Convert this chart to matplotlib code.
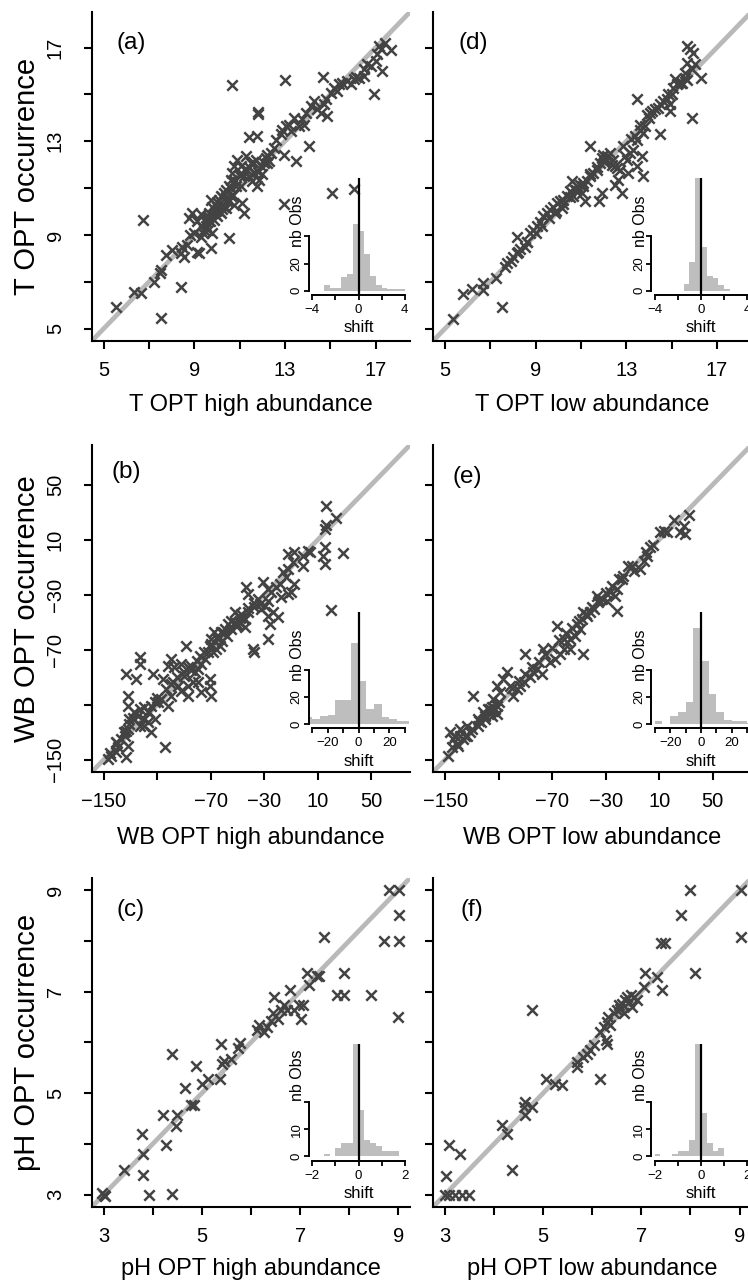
import matplotlib
matplotlib.use('Agg')
import matplotlib.pyplot as plt

plt.rcParams['font.family'] = ['Liberation Sans', 'DejaVu Sans']

# ---------------- data ----------------
# (a) T OPT high abundance vs occurrence
a_x = [6.34, 6.63, 7.22, 7.49, 7.51, 7.74, 8.03, 8.40, 8.47, 8.54, 8.69, 8.76, 8.91, 9.13, 9.28, 9.28,
       9.43, 9.50, 9.57, 9.65, 9.72, 9.79, 9.87, 9.94, 10.01, 10.09, 10.16, 10.16, 10.24, 10.31, 10.38,
       10.46, 10.53, 10.60, 10.60, 10.68, 10.75, 10.75, 10.82, 10.90, 10.97, 11.04, 11.04, 11.12, 11.19,
       11.26, 11.34, 11.41, 11.49, 11.56, 11.63, 11.71, 11.78, 11.85, 11.93, 12.07, 12.15, 12.22, 12.29,
       12.37, 12.51, 12.59, 12.81, 12.88, 13.03, 13.18, 13.25, 13.40, 13.62, 13.76, 13.84, 13.91, 14.13,
       14.28, 14.43, 14.57, 14.72, 14.79, 14.87, 15.01, 15.16, 15.31, 15.38, 15.53, 15.75, 15.90, 16.04,
       16.12, 16.26, 16.49, 16.63, 16.78, 17.00, 17.07, 17.22, 17.70, 17.40, 16.50, 17.30,
       10.68, 12.99, 14.69, 16.93, 17.15, 11.82, 11.82, 11.78, 11.41, 14.06, 13.47, 12.96, 6.75, 8.40,
       7.51, 5.53, 15.09, 16.04, 12.96, 10.53, 9.21, 9.72,
       9.50, 9.60, 9.70, 9.80, 9.90, 10.00, 10.10, 10.20, 10.30, 10.40, 10.50, 10.60, 10.70, 9.40, 9.60,
       10.00, 10.20, 10.40, 10.80, 11.00, 11.20, 11.40, 11.60, 11.80, 12.00, 12.20, 8.80, 9.00, 9.10, 9.30]
a_y = [6.57, 6.50, 7.00, 7.36, 7.50, 8.14, 8.36, 8.21, 8.50, 8.07, 8.57, 9.71, 9.93, 8.29, 8.93, 9.36,
       9.21, 9.57, 9.71, 9.93, 10.50, 9.07, 9.64, 10.00, 10.21, 10.50, 10.64, 9.93, 10.29, 10.79, 10.14,
       10.50, 11.07, 11.36, 10.64, 11.64, 11.93, 10.29, 11.07, 12.21, 11.57, 11.93, 11.07, 10.36, 9.93,
       12.36, 11.79, 11.50, 12.07, 11.29, 11.64, 12.21, 11.07, 11.36, 11.93, 12.07, 12.29, 12.07, 12.14,
       12.50, 12.71, 13.07, 13.29, 13.50, 13.64, 13.71, 13.43, 14.00, 13.64, 13.93, 13.71, 14.21, 14.50,
       14.71, 14.36, 14.21, 14.57, 14.79, 14.07, 15.07, 15.29, 15.14, 15.43, 15.50, 15.57, 15.43, 15.64,
       15.76, 15.71, 16.07, 16.29, 16.21, 16.43, 16.71, 16.93, 16.90, 17.20, 15.80, 16.00,
       15.39, 15.60, 15.76, 15.00, 17.07, 14.24, 14.18, 13.21, 13.19, 12.79, 12.14, 12.43, 9.64, 6.76,
       5.43, 5.93, 10.81, 10.96, 10.33, 8.86, 8.21, 8.43,
       9.40, 9.80, 9.60, 10.20, 9.90, 10.40, 10.00, 10.60, 10.20, 10.90, 10.40, 11.00, 10.70, 9.10, 9.20,
       9.80, 10.10, 10.60, 11.30, 11.60, 11.50, 11.90, 12.10, 11.70, 11.60, 12.40, 9.00, 9.10, 9.60, 9.90]

# (d) T OPT low abundance vs occurrence
d_x = [5.37, 5.81, 6.18, 6.69, 6.69, 7.50, 7.25, 7.65, 7.72, 8.01, 8.16, 8.24, 8.16,
       8.53, 8.60, 8.75, 8.90, 9.04, 9.19, 9.34, 9.49, 9.63, 9.78, 9.85, 9.93, 10.07, 10.15, 10.22,
       10.37, 10.51, 10.59, 10.66, 10.74, 10.81, 10.96, 11.03, 11.10, 11.18, 11.25, 11.40, 11.40, 11.54,
       11.69, 11.84, 11.91, 11.99, 12.06, 12.13, 12.28, 12.35, 12.43, 12.50, 12.57, 12.65, 12.72, 12.79,
       12.87, 12.94, 13.01, 13.09, 13.16, 13.31, 13.38, 13.46, 13.46, 13.60, 13.68, 13.75, 13.82, 13.75,
       13.90, 14.04, 14.12, 14.26, 14.41, 14.49, 14.63, 14.78, 14.85, 14.93, 14.93, 15.07, 15.15, 15.22,
       15.29, 15.44, 15.59, 15.66, 15.81, 15.96, 15.66, 16.03, 15.59, 16.32, 15.88, 13.46, 11.81, 11.91,
       12.50,
       9.00, 9.30, 9.60, 9.90, 10.20, 10.50, 10.80, 11.10, 11.40, 11.70, 12.00, 8.60, 8.30, 7.90, 13.20,
       13.60, 14.00, 14.50, 15.00, 15.40, 15.70, 15.90]
d_y = [5.39, 6.46, 6.67, 6.93, 6.64, 5.90, 7.14, 7.64, 7.79, 8.07, 8.21, 8.29, 8.93,
       8.50, 8.71, 9.07, 9.21, 9.36, 9.57, 9.79, 9.93, 10.07, 10.21, 9.93, 10.36, 10.43, 10.14, 10.50,
       10.64, 10.86, 11.29, 10.64, 10.93, 11.07, 11.14, 10.79, 11.07, 10.43, 11.29, 12.79, 11.50, 11.64,
       11.79, 12.07, 12.29, 12.43, 12.21, 12.36, 12.50, 12.00, 12.21, 11.93, 11.86, 11.36, 11.79, 10.79,
       12.79, 12.36, 12.21, 11.64, 12.50, 12.64, 13.21, 13.07, 11.93, 13.50, 12.36, 13.36, 13.64, 11.50,
       14.14, 14.21, 14.29, 14.36, 14.43, 13.29, 14.71, 14.79, 15.00, 14.57, 14.29, 15.29, 15.64, 15.43,
       15.50, 15.50, 15.71, 17.07, 16.93, 16.79, 16.36, 16.29, 15.93, 15.71, 14.00, 14.79, 10.43, 10.81,
       11.14,
       9.10, 9.40, 9.70, 10.00, 10.30, 10.60, 10.90, 11.20, 11.60, 11.90, 12.10, 8.70, 8.40, 7.90, 13.10,
       13.70, 14.00, 14.60, 15.00, 15.50, 15.60, 16.10]

# (b) WB OPT high abundance vs occurrence
b_x = [16.2, 23.7, 16.2, 15.5, 15.0, 13.7, 15.0, 28.7, 3.8, 20.0, -12.4, -8.7, -7.5, -1.2, -1.2, 2.5,
       -12.4, -16.2, -13.7, -18.7, -21.2, -24.9, -27.4, -29.9, -32.4, -33.6, -37.4, -42.3, -43.6, -31.1,
       -42.3, -27.4, -17.4, -9.9, -7.5, -12.4, -27.4, -23.7, -19.9, -26.1, -27.4, -37.4, -38.6, -44.8,
       -47.3, -52.3, -54.8, -51.1, -48.6, -44.8, -57.3, -59.8, -62.3, -64.8, -67.3, -69.8, -71.0, -72.3,
       -68.5, -66.0, -63.5, -74.7, -77.2, -79.7, -82.2, -84.7, -87.2, -89.7, -88.4, -92.2, -97.2, -99.7,
       -102.2, -105.9, -103.4, -98.4, -94.7, -92.2, -87.2, -83.5, -71.0, -71.0, -69.8, -77.2, -79.7,
       -87.2, -99.7, -102.2, -107.1, -109.6, -114.6, -115.9, -112.1, -117.1, -119.6, -124.6, -123.3,
       -127.1, -130.8, -132.1, -134.5, -137.0, -139.5, -140.8, -144.5, -147.0, -123.3, -123.3, -133.3,
       -125.8, -113.4, -132.1, -132.1, -114.6, -104.6, -133.3, -132.1, -140.8, -133.3, -130.8, -123.3,
       -119.6, -117.1, -112.1,
       -65.0, -60.0, -58.0, -55.0, -52.0, -50.0, -48.0, -45.0, -62.0, -70.0, -75.0, -78.0, -80.0, -85.0,
       -90.0, -95.0, -100.0, -110.0, -120.0, -128.0, -135.0, -140.0, -145.0, -42.0, -38.0, -35.0]
b_y = [34.2, 25.5, 20.7, 17.8, 4.4, -1.6, -7.7, 0.1, 0.8, -40.9, -0.4, -6.5, 0.8, -1.6, -8.9, 2.0,
       -11.3, -13.8, -17.4, -22.2, -24.7, -28.3, -34.4, -38.0, -40.4, -36.8, -39.2, -42.8, -24.7, -21.0,
       -29.5, -25.9, -31.9, -28.3, -22.2, -29.5, -45.3, -42.8, -46.5, -51.3, -62.2, -71.9, -69.5, -47.7,
       -44.1, -42.8, -48.9, -52.5, -50.1, -53.7, -51.3, -55.0, -57.4, -59.8, -57.4, -62.2, -67.1, -71.9,
       -71.9, -69.5, -67.1, -76.8, -80.4, -84.0, -86.5, -81.6, -82.8, -88.9, -67.1, -80.4, -82.8, -76.8,
       -81.6, -91.3, -98.6, -93.7, -96.2, -99.8, -96.2, -93.7, -91.3, -96.2, -103.4, -101.0, -93.7,
       -103.4, -103.4, -110.7, -105.9, -108.3, -110.7, -115.6, -120.4, -122.8, -125.3, -118.0, -113.1,
       -115.6, -120.4, -127.7, -132.5, -135.0, -141.0, -144.7, -147.1, -149.5, -75.6, -80.4, -87.7,
       -91.3, -87.7, -103.4, -110.7, -130.1, -141.0, -148.3, -139.8, -137.4, -128.9, -124.0, -125.3,
       -120.4, -115.6, -108.3,
       -62.0, -58.0, -60.0, -55.0, -50.0, -52.0, -47.0, -48.0, -64.0, -66.0, -72.0, -75.0, -78.0, -85.0,
       -86.0, -90.0, -95.0, -105.0, -112.0, -120.0, -130.0, -138.0, -145.0, -40.0, -36.0, -33.0]

# (e) WB OPT low abundance vs occurrence
e_x = [31.9, 21.2, 28.2, 29.4, 25.7, 15.7, 13.2, 10.7, 3.3, 0.8, -1.7, -4.2, -9.2, -13.0, -16.7, -17.9,
       -21.7, -22.9, -21.7, -26.6, -29.1, -32.9, -35.4, -36.6, -39.1, -41.6, -44.1, -46.6, -47.8, -51.6,
       -49.1, -52.8, -56.6, -59.0, -61.5, -66.5, -61.5, -56.6, -46.6, -64.0, -67.8, -71.5, -76.5, -77.7,
       -81.5, -84.0, -86.5, -90.2, -91.4, -93.9, -96.4, -98.9, -101.4, -103.9, -106.4, -111.4, -108.9,
       -113.9, -116.4, -112.6, -111.4, -115.1, -120.1, -122.8, -125.3, -128.8, -131.3, -133.8, -136.3,
       -138.8, -141.3, -143.8, -146.3, -145.0, -147.5, -142.5, -138.8, -133.8, -125.3, -121.6, -117.9,
       -113.9, -111.4,
       -140.0, -135.0, -130.0, -125.0, -120.0, -115.0, -110.0, -100.0, -95.0, -90.0, -85.0, -80.0, -75.0,
       -70.0, -65.0, -60.0, -55.0, -50.0, -45.0, -40.0, -35.0, -30.0, -25.0, -20.0, -10.0, 0.0, 5.0]
e_y = [27.9, 24.5, 20.2, 14.1, 15.3, 15.3, 16.5, 15.3, 4.4, -1.6, -5.3, -11.3, -12.5, -8.9, -16.2, -18.6,
       -25.9, -30.7, -41.6, -28.3, -34.4, -33.1, -35.6, -30.7, -40.4, -42.8, -45.3, -42.8, -47.7, -51.3,
       -55.0, -59.8, -62.2, -64.7, -62.2, -52.5, -69.5, -69.5, -73.1, -73.1, -76.8, -79.2, -69.5, -87.7,
       -84.0, -86.5, -90.1, -73.1, -93.7, -96.2, -98.6, -103.4, -96.2, -86.5, -91.3, -96.2, -101.0,
       -105.9, -113.1, -113.1, -116.8, -118.0, -120.4, -122.8, -125.3, -103.4, -130.1, -132.5, -135.0,
       -132.5, -138.6, -135.0, -130.1, -141.0, -147.1, -132.5, -127.7, -125.3, -120.4, -115.6, -113.1,
       -114.4, -110.7,
       -140.0, -133.0, -128.0, -122.0, -118.0, -112.0, -108.0, -98.0, -93.0, -88.0, -83.0, -79.0, -73.0,
       -69.0, -63.0, -58.0, -54.0, -49.0, -44.0, -39.0, -34.0, -29.0, -24.0, -19.0, -9.0, 1.0, 6.0]

# (c) pH OPT high abundance vs occurrence
c_x = [3.00, 2.97, 3.03, 3.42, 3.78, 3.80, 3.80, 3.92, 4.39, 4.27, 4.21, 4.50, 4.48, 4.39, 4.65, 4.78,
       4.84, 4.87, 5.01, 5.12, 5.37, 5.39, 5.41, 5.45, 5.59, 5.73, 5.78, 6.13, 6.16, 6.27, 6.33, 6.40,
       6.44, 6.47, 6.54, 6.61, 6.67, 6.74, 6.80, 6.88, 6.98, 7.05, 7.01, 7.14, 7.18, 7.34, 7.39, 7.48,
       7.90, 7.76, 7.90, 8.44, 8.82, 9.02, 9.02, 8.71, 9.02, 8.99]
c_y = [3.00, 3.03, 2.98, 3.49, 4.20, 3.80, 3.38, 3.00, 3.01, 3.97, 4.56, 4.56, 4.36, 5.78, 5.10, 4.76,
       4.76, 5.53, 5.18, 5.28, 5.28, 5.96, 5.57, 5.64, 5.68, 5.88, 5.99, 6.24, 6.34, 6.20, 6.30, 6.43,
       6.57, 6.89, 6.47, 6.63, 6.73, 6.63, 7.04, 6.63, 6.73, 6.73, 6.47, 7.36, 7.13, 7.30, 7.30, 8.08,
       7.37, 6.93, 6.93, 6.93, 9.00, 9.00, 8.51, 8.00, 8.00, 6.50]

# (f) pH OPT low abundance vs occurrence
f_x = [3.00, 3.07, 3.20, 3.34, 3.48, 3.02, 3.07, 3.31, 4.36, 4.16, 4.26, 4.60, 4.63, 4.77, 4.63, 4.77,
       5.06, 5.24, 5.38, 5.69, 5.69, 5.82, 5.89, 5.96, 6.03, 6.16, 6.16, 6.23, 6.30, 6.27, 6.33, 6.37,
       6.44, 6.50, 6.54, 6.57, 6.61, 6.64, 6.67, 6.71, 6.74, 6.78, 6.84, 6.91, 6.81, 6.30, 7.05, 7.08,
       7.32, 7.42, 7.39, 7.49, 7.80, 8.00, 8.10, 9.02, 9.02]
f_y = [3.00, 3.00, 3.00, 3.00, 3.00, 3.36, 3.97, 3.80, 3.49, 4.38, 4.20, 4.72, 4.56, 4.72, 4.82, 6.63,
       5.28, 5.18, 5.15, 5.61, 5.51, 5.71, 5.78, 5.84, 5.94, 5.28, 6.20, 6.30, 6.40, 6.04, 6.50, 6.34,
       6.57, 6.63, 6.73, 6.66, 6.76, 6.57, 6.83, 6.89, 6.79, 6.93, 6.89, 6.83, 6.70, 5.97, 7.09, 7.36,
       7.29, 7.04, 7.95, 7.95, 8.51, 9.00, 7.36, 9.00, 8.08]

# histograms of shifts (bin edges, counts)
t_edges = [-4.0, -3.5, -3.0, -2.5, -2.0, -1.5, -1.0, -0.5, 0.0, 0.5, 1.0, 1.5, 2.0, 2.5, 3.0, 3.5, 4.0]
a_counts = [0, 0, 4, 2, 2, 10, 12, 49, 44, 27, 11, 4, 2, 1, 1, 1]
d_counts = [0, 0, 0, 0, 0, 5, 21, 90, 32, 11, 9, 4, 1, 0, 0, 0]
wb_edges = [-35, -30, -25, -20, -15, -10, -5, 0, 5, 10, 15, 20, 25, 30, 35]
b_counts = [5, 4, 6, 7, 18, 18, 60, 32, 11, 15, 5, 4, 2, 2]
e_counts = [0, 2, 0, 6, 9, 16, 71, 47, 22, 9, 3, 2, 2, 1]
ph_edges = [-2.0, -1.75, -1.5, -1.25, -1.0, -0.75, -0.5, -0.25, 0.0, 0.25, 0.5, 0.75, 1.0, 1.25, 1.5,
            1.75, 2.0]
c_counts = [0, 0, 1, 0, 3, 5, 5, 45, 17, 6, 5, 4, 2, 2, 2, 0]
f_counts = [1, 0, 0, 1, 2, 2, 6, 45, 16, 5, 2, 3, 0, 0, 0, 0]

# axis settings per row
row_lims = [(4.48, 18.52), (-158.8, 78.8), (2.76, 9.24)]
row_ticks = [[5, 7, 9, 11, 13, 15, 17], [-150, -110, -70, -30, 10, 50], [3, 4, 5, 6, 7, 8, 9]]
row_ticklabels = [['5', '', '9', '', '13', '', '17'],
                  ['\u2212150', '', '\u221270', '\u221230', '10', '50'],
                  ['3', '', '5', '', '7', '', '9']]
row_ylabels = ['T OPT occurrence', 'WB OPT occurrence', 'pH OPT occurrence']
row_xlabels = [('T OPT high abundance', 'T OPT low abundance'),
               ('WB OPT high abundance', 'WB OPT low abundance'),
               ('pH OPT high abundance', 'pH OPT low abundance')]
inset_xlims = [(-4, 4), (-30, 30), (-2, 2)]
inset_xticks = [[-4, -2, 0, 2, 4], [-30, -20, -10, 0, 10, 20, 30], [-2, -1, 0, 1, 2]]
inset_xticklabels = [['\u22124', '', '0', '', '4'],
                     ['', '\u221220', '', '0', '', '20', ''],
                     ['\u22122', '', '0', '', '2']]
inset_ymax = [80, 80, 40]
inset_yticks = [[0, 20, 40], [0, 20, 40], [0, 10, 20]]
inset_yticklabels = [['0', '20', ''], ['0', '20', ''], ['0', '10', '']]

# ---------------- layout (pixels) ----------------
W, H, DPI = 748, 1285, 100
col_left = [92.0, 433.3]
panel_w = 318.0
row_top = [12.0, 445.0, 878.0]
row_bot = [340.7, 771.7, 1206.7]
inset_left = [308.5, 651.0]
inset_w = 100.0
inset_top = [178.0, 611.7, 1044.0]
inset_bot = [295.0, 728.3, 1160.7]
letter_pos = {(0, 0): (117, 43, '(a)'), (0, 1): (458, 43, '(d)'),
              (1, 0): (112, 472, '(b)'), (1, 1): (453, 477, '(e)'),
              (2, 0): (117, 910, '(c)'), (2, 1): (461, 910, '(f)')}
xlabel_base = [410.7, 844.0, 1275.0]
nbobs_y = [221.7, 655.0, 1075.0]

POINT = '#434343'
LINE = '#b9b9b9'
BAR = '#bebebe'


def rect(left, top, right, bottom):
    return [left / W, 1 - bottom / H, (right - left) / W, (bottom - top) / H]


def ext(lo, hi):
    d = (hi - lo) * 0.04
    return (lo - d, hi + d)


fig = plt.figure(figsize=(W / DPI, H / DPI), dpi=DPI)
fig.patch.set_facecolor('white')

scatter_data = [[(a_x, a_y), (d_x, d_y)], [(b_x, b_y), (e_x, e_y)], [(c_x, c_y), (f_x, f_y)]]
hist_data = [[(t_edges, a_counts), (t_edges, d_counts)],
             [(wb_edges, b_counts), (wb_edges, e_counts)],
             [(ph_edges, c_counts), (ph_edges, f_counts)]]

for r in range(3):
    for c in range(2):
        L = col_left[c]
        ax = fig.add_axes(rect(L, row_top[r], L + panel_w, row_bot[r]))
        ax.set_facecolor('none')
        lim = row_lims[r]
        ax.set_xlim(lim)
        ax.set_ylim(lim)
        ax.axline((lim[0], lim[0]), slope=1, color=LINE, lw=3.4, zorder=1, solid_capstyle='butt')
        xs, ys = scatter_data[r][c]
        ax.scatter(xs, ys, marker='x', s=56, linewidths=1.8, color=POINT, zorder=2)
        for s in ['top', 'right']:
            ax.spines[s].set_visible(False)
        for s in ['left', 'bottom']:
            ax.spines[s].set_linewidth(1.5)
        ax.set_xticks(row_ticks[r])
        ax.set_xticklabels(row_ticklabels[r])
        ax.set_yticks(row_ticks[r])
        if c == 0:
            ax.set_yticklabels(row_ticklabels[r], rotation=90, va='center')
        else:
            ax.set_yticklabels([''] * len(row_ticks[r]))
        ax.tick_params(axis='both', direction='out', length=5.5, width=1.5, labelsize=14.5)
        ax.tick_params(axis='x', pad=9)
        ax.tick_params(axis='y', pad=14)

        # panel letter
        lx, ly, lt = letter_pos[(r, c)]
        fig.text(lx / W, 1 - ly / H, lt, ha='left', va='center', fontsize=17.5)
        # x label
        fig.text((L + panel_w / 2) / W, 1 - xlabel_base[r] / H, row_xlabels[r][c],
                 ha='center', va='baseline', fontsize=17)

        # inset histogram
        IL = inset_left[c]
        iax = fig.add_axes(rect(IL, inset_top[r], IL + inset_w, inset_bot[r]))
        iax.set_facecolor('none')
        edges, counts = hist_data[r][c]
        iax.stairs(counts, edges, fill=True, color=BAR, lw=0, zorder=1)
        iax.axvline(0, color='black', lw=1.6, zorder=2)
        iax.set_xlim(ext(*inset_xlims[r]))
        iax.set_ylim(ext(0, inset_ymax[r]))
        for s in ['top', 'right']:
            iax.spines[s].set_visible(False)
        iax.spines['left'].set_bounds(inset_yticks[r][0], inset_yticks[r][-1])
        iax.spines['bottom'].set_bounds(inset_xticks[r][0], inset_xticks[r][-1])
        for s in ['left', 'bottom']:
            iax.spines[s].set_linewidth(1.4)
        iax.set_xticks(inset_xticks[r])
        iax.set_xticklabels(inset_xticklabels[r])
        iax.set_yticks(inset_yticks[r])
        iax.set_yticklabels(inset_yticklabels[r], rotation=90, va='center')
        iax.tick_params(axis='both', direction='out', length=3.6, width=1.3, labelsize=9.5,
                        colors='black')
        iax.tick_params(axis='x', pad=3)
        iax.tick_params(axis='y', pad=0.5)
        cx = IL + inset_w / 2
        fig.text(cx / W, 1 - (inset_bot[r] + 37.5) / H, 'shift', ha='center', va='baseline',
                 fontsize=12)
        fig.text((IL - 6) / W, 1 - nbobs_y[r] / H, 'nb Obs', rotation=90, rotation_mode='anchor',
                 ha='center', va='baseline', fontsize=11.5)

for r in range(3):
    fig.text(35 / W, 1 - (row_top[r] + row_bot[r]) / 2 / H, row_ylabels[r], rotation=90,
             rotation_mode='anchor', ha='center', va='baseline', fontsize=21)

fig.savefig('out.png', dpi=DPI, facecolor=fig.get_facecolor())
